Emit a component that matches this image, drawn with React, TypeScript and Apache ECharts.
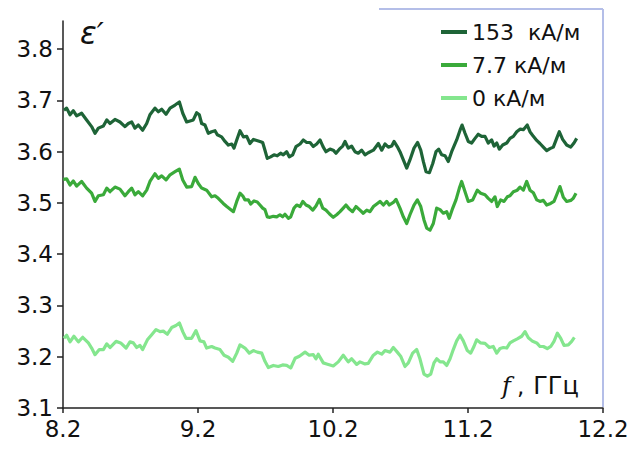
import { useEffect, useRef } from "react";
import * as echarts from "echarts";

// Frequency (GHz) and real permittivity ε′ for each bias field
const freq153 = [
  8.207, 8.227, 8.252, 8.276, 8.301, 8.338, 8.375, 8.412, 8.437, 8.462,
  8.499, 8.524, 8.548, 8.585, 8.622, 8.659, 8.684, 8.709, 8.733, 8.758,
  8.79, 8.82, 8.844, 8.881, 8.906, 8.931, 8.963, 8.993, 9.03, 9.062,
  9.087, 9.116, 9.141, 9.165, 9.19, 9.21, 9.227, 9.252, 9.276, 9.301,
  9.326, 9.343, 9.375, 9.4, 9.425, 9.45, 9.467, 9.487, 9.511, 9.536,
  9.561, 9.585, 9.61, 9.635, 9.659, 9.679, 9.696, 9.713, 9.738, 9.763,
  9.787, 9.812, 9.832, 9.857, 9.876, 9.901, 9.926, 9.956, 9.98, 10.005,
  10.03, 10.054, 10.079, 10.104, 10.126, 10.148, 10.178, 10.202, 10.222, 10.247,
  10.272, 10.289, 10.313, 10.338, 10.363, 10.387, 10.412, 10.437, 10.461, 10.499,
  10.536, 10.561, 10.585, 10.61, 10.635, 10.652, 10.676, 10.696, 10.721, 10.746,
  10.77, 10.8, 10.827, 10.85, 10.869, 10.889, 10.914, 10.939, 10.963, 10.983,
  11.005, 11.03, 11.054, 11.079, 11.116, 11.141, 11.156, 11.178, 11.202, 11.227,
  11.252, 11.276, 11.301, 11.326, 11.35, 11.375, 11.393, 11.413, 11.432, 11.457,
  11.487, 11.511, 11.536, 11.561, 11.585, 11.61, 11.639, 11.659, 11.684, 11.709,
  11.733, 11.758, 11.783, 11.807, 11.832, 11.857, 11.876, 11.901, 11.931, 11.961,
  11.985, 12.005,
];
const eps153 = [
  3.681, 3.685, 3.672, 3.68, 3.67, 3.675, 3.662, 3.649, 3.636, 3.646,
  3.65, 3.662, 3.655, 3.663, 3.658, 3.649, 3.655, 3.658, 3.646, 3.652,
  3.642, 3.655, 3.672, 3.685, 3.678, 3.683, 3.673, 3.685, 3.691, 3.697,
  3.675, 3.658, 3.66, 3.662, 3.676, 3.672, 3.655, 3.652, 3.636, 3.639,
  3.641, 3.633, 3.629, 3.62, 3.613, 3.615, 3.607, 3.623, 3.641, 3.629,
  3.63, 3.616, 3.624, 3.622, 3.62, 3.618, 3.603, 3.587, 3.59, 3.594,
  3.592, 3.597, 3.594, 3.6, 3.59, 3.594, 3.61, 3.615, 3.623, 3.618,
  3.618, 3.61, 3.615, 3.623, 3.61, 3.6, 3.605, 3.603, 3.597, 3.605,
  3.611, 3.62, 3.607, 3.611, 3.6, 3.597, 3.603, 3.594, 3.598, 3.603,
  3.616, 3.603, 3.615, 3.609, 3.611, 3.62, 3.61, 3.6, 3.584, 3.568,
  3.584, 3.607, 3.618, 3.603, 3.581, 3.561, 3.559, 3.577, 3.6, 3.605,
  3.594, 3.592, 3.581, 3.6, 3.623, 3.642, 3.652, 3.636, 3.62, 3.617,
  3.626, 3.634, 3.63, 3.63, 3.617, 3.623, 3.611, 3.617, 3.605, 3.613,
  3.617, 3.626, 3.63, 3.639, 3.644, 3.643, 3.652, 3.639, 3.63, 3.622,
  3.616, 3.609, 3.602, 3.606, 3.609, 3.626, 3.639, 3.624, 3.613, 3.609,
  3.617, 3.626,
];

const freq77 = [
  8.202, 8.227, 8.252, 8.276, 8.301, 8.338, 8.375, 8.412, 8.437, 8.462,
  8.499, 8.524, 8.548, 8.585, 8.622, 8.659, 8.684, 8.709, 8.733, 8.758,
  8.79, 8.82, 8.844, 8.881, 8.906, 8.931, 8.963, 8.993, 9.03, 9.062,
  9.087, 9.116, 9.153, 9.178, 9.202, 9.227, 9.264, 9.301, 9.326, 9.35,
  9.387, 9.413, 9.462, 9.487, 9.511, 9.531, 9.548, 9.573, 9.59, 9.615,
  9.639, 9.659, 9.679, 9.696, 9.713, 9.733, 9.758, 9.783, 9.807, 9.827,
  9.844, 9.869, 9.887, 9.911, 9.931, 9.956, 9.976, 10.0, 10.024, 10.05,
  10.074, 10.099, 10.124, 10.148, 10.173, 10.202, 10.227, 10.252, 10.276, 10.296,
  10.321, 10.345, 10.37, 10.4, 10.424, 10.45, 10.474, 10.499, 10.524, 10.548,
  10.573, 10.598, 10.617, 10.647, 10.667, 10.696, 10.721, 10.746, 10.77, 10.8,
  10.825, 10.85, 10.874, 10.894, 10.919, 10.943, 10.968, 10.993, 11.017, 11.042,
  11.061, 11.087, 11.111, 11.136, 11.153, 11.178, 11.202, 11.235, 11.269, 11.294,
  11.326, 11.35, 11.375, 11.4, 11.417, 11.442, 11.467, 11.491, 11.511, 11.536,
  11.565, 11.585, 11.61, 11.635, 11.659, 11.684, 11.709, 11.733, 11.758, 11.783,
  11.812, 11.837, 11.857, 11.881, 11.906, 11.931, 11.961, 11.98, 12.0,
];
const eps77 = [
  3.546, 3.547, 3.535, 3.543, 3.533, 3.542, 3.529, 3.519, 3.503, 3.514,
  3.516, 3.529, 3.522, 3.531, 3.527, 3.514, 3.522, 3.529, 3.516, 3.522,
  3.514, 3.525, 3.542, 3.557, 3.548, 3.553, 3.545, 3.555, 3.561, 3.566,
  3.545, 3.531, 3.532, 3.55, 3.538, 3.529, 3.525, 3.512, 3.514, 3.509,
  3.499, 3.493, 3.483, 3.503, 3.519, 3.514, 3.506, 3.506, 3.498, 3.504,
  3.502, 3.496, 3.49, 3.487, 3.473, 3.472, 3.474, 3.473, 3.477, 3.473,
  3.478, 3.47, 3.473, 3.49, 3.496, 3.493, 3.503, 3.496, 3.493, 3.486,
  3.494, 3.507, 3.49, 3.486, 3.479, 3.472, 3.477, 3.483, 3.49, 3.496,
  3.488, 3.483, 3.493, 3.486, 3.48, 3.486, 3.483, 3.493, 3.498, 3.503,
  3.496, 3.503, 3.496, 3.501, 3.507, 3.49, 3.473, 3.46, 3.477, 3.496,
  3.506, 3.493, 3.467, 3.451, 3.447, 3.46, 3.49, 3.487, 3.48, 3.483,
  3.47, 3.49, 3.506, 3.529, 3.542, 3.522, 3.503, 3.506, 3.525, 3.519,
  3.516, 3.509, 3.503, 3.512, 3.493, 3.506, 3.503, 3.512, 3.514, 3.522,
  3.525, 3.531, 3.525, 3.542, 3.525, 3.52, 3.506, 3.503, 3.505, 3.496,
  3.499, 3.503, 3.516, 3.532, 3.511, 3.503, 3.505, 3.509, 3.519,
];

const freq0 = [
  8.207, 8.227, 8.252, 8.281, 8.314, 8.346, 8.388, 8.412, 8.437, 8.469,
  8.499, 8.524, 8.548, 8.593, 8.627, 8.667, 8.696, 8.721, 8.746, 8.77,
  8.79, 8.825, 8.857, 8.889, 8.919, 8.943, 8.973, 9.005, 9.037, 9.062,
  9.087, 9.111, 9.153, 9.185, 9.215, 9.244, 9.264, 9.301, 9.326, 9.363,
  9.393, 9.425, 9.457, 9.487, 9.511, 9.548, 9.58, 9.61, 9.639, 9.672,
  9.696, 9.721, 9.758, 9.795, 9.827, 9.857, 9.887, 9.919, 9.951, 9.993,
  10.024, 10.054, 10.074, 10.091, 10.128, 10.153, 10.178, 10.202, 10.239, 10.276,
  10.313, 10.338, 10.375, 10.4, 10.437, 10.461, 10.499, 10.529, 10.561, 10.585,
  10.622, 10.647, 10.676, 10.701, 10.733, 10.758, 10.79, 10.82, 10.844, 10.874,
  10.899, 10.924, 10.948, 10.968, 10.993, 11.017, 11.042, 11.067, 11.091, 11.116,
  11.141, 11.165, 11.195, 11.22, 11.244, 11.264, 11.294, 11.326, 11.358, 11.387,
  11.413, 11.437, 11.462, 11.487, 11.511, 11.536, 11.565, 11.598, 11.622, 11.647,
  11.679, 11.709, 11.733, 11.758, 11.787, 11.813, 11.837, 11.862, 11.887, 11.911,
  11.943, 11.968, 11.988,
];
const eps0 = [
  3.236, 3.242, 3.229, 3.24, 3.229, 3.238, 3.227, 3.217, 3.204, 3.214,
  3.214, 3.225, 3.218, 3.23, 3.227, 3.217, 3.229, 3.227, 3.218, 3.222,
  3.214, 3.233, 3.243, 3.253, 3.249, 3.25, 3.244, 3.257, 3.261, 3.266,
  3.249, 3.236, 3.236, 3.251, 3.231, 3.229, 3.217, 3.22, 3.217, 3.214,
  3.203, 3.199, 3.191, 3.207, 3.223, 3.217, 3.207, 3.212, 3.209, 3.207,
  3.191, 3.179, 3.183, 3.181, 3.184, 3.183, 3.178, 3.197, 3.201, 3.209,
  3.203, 3.204, 3.196, 3.205, 3.188, 3.186, 3.184, 3.182, 3.19, 3.203,
  3.19, 3.196, 3.185, 3.19, 3.186, 3.187, 3.203, 3.209, 3.205, 3.212,
  3.209, 3.218, 3.209, 3.201, 3.181, 3.188, 3.207, 3.214, 3.196, 3.166,
  3.162, 3.166, 3.188, 3.196, 3.19, 3.19, 3.183, 3.196, 3.214, 3.231,
  3.242, 3.231, 3.212, 3.207, 3.22, 3.233, 3.227, 3.226, 3.218, 3.22,
  3.207, 3.216, 3.218, 3.217, 3.227, 3.231, 3.235, 3.24, 3.249, 3.237,
  3.23, 3.227, 3.22, 3.22, 3.216, 3.22, 3.23, 3.246, 3.236, 3.222,
  3.223, 3.23, 3.238,
];

const seriesNames = ["153  кА/м", "7.7 кА/м", "0 кА/м"];
const seriesColors = ["#1e6437", "#3aaa3a", "#84e68e"];
const xTicks = [8.2, 9.2, 10.2, 11.2, 12.2];
const yTicks = [3.1, 3.2, 3.3, 3.4, 3.5, 3.6, 3.7, 3.8];

const FONT = "DejaVu Sans";

function pairs(xs: number[], ys: number[]) {
  return xs.map((x, i) => [x, ys[i]]);
}

export default function App() {
  const ref = useRef<HTMLDivElement>(null);

  useEffect(() => {
    const chart = echarts.init(ref.current!, null, { renderer: "svg" });
    const data = [pairs(freq153, eps153), pairs(freq77, eps77), pairs(freq0, eps0)];

    chart.setOption({
      animation: false,
      backgroundColor: "#ffffff",
      grid: { left: 63, right: 36, top: 21, bottom: 42, containLabel: false },
      xAxis: {
        type: "value",
        min: 8.2,
        max: 12.2,
        axisLine: { onZero: false, lineStyle: { color: "#222", width: 1.5 } },
        axisTick: { show: true, length: 5, customValues: xTicks, lineStyle: { color: "#222", width: 1.5 } },
        axisLabel: {
          customValues: xTicks,
          fontFamily: FONT,
          fontSize: 23,
          color: "#111",
          margin: 9,
          formatter: (v: number) => v.toFixed(1),
        },
        splitLine: { show: false },
      },
      yAxis: {
        type: "value",
        min: 3.1,
        max: 3.855,
        axisLine: { show: true, onZero: false, lineStyle: { color: "#222", width: 1.5 } },
        axisTick: { show: true, length: 6, customValues: yTicks, lineStyle: { color: "#222", width: 1.5 } },
        axisLabel: {
          customValues: yTicks,
          fontFamily: FONT,
          fontSize: 23,
          color: "#111",
          margin: 10,
          formatter: (v: number) => v.toFixed(1),
        },
        splitLine: { show: false },
      },
      legend: {
        orient: "vertical",
        left: 436,
        top: 16,
        itemWidth: 26,
        itemHeight: 4,
        itemGap: 11,
        icon: "rect",
        data: seriesNames,
        textStyle: { fontFamily: FONT, fontSize: 22, color: "#111" },
      },
      series: seriesNames.map((name, i) => ({
        name,
        type: "line",
        data: data[i],
        showSymbol: false,
        symbol: "none",
        lineStyle: { color: seriesColors[i], width: 3.2, join: "round" },
        itemStyle: { color: seriesColors[i] },
        z: 3 - i,
      })),
      graphic: [
        {
          type: "line",
          shape: { x1: 379, y1: 9, x2: 603, y2: 9 },
          style: { stroke: "#b4bee8", lineWidth: 2 },
        },
        {
          type: "line",
          shape: { x1: 603, y1: 9, x2: 603, y2: 407 },
          style: { stroke: "#b4bee8", lineWidth: 2 },
        },
        {
          type: "text",
          left: 80,
          top: 17,
          style: {
            text: "ε′",
            fontFamily: FONT,
            fontStyle: "italic",
            fontSize: 31,
            fill: "#111",
          },
        },
        {
          type: "text",
          left: 502,
          top: 374,
          style: {
            text: "{f|f}{c|,}{t|ГГц}",
            rich: {
              f: { fontFamily: "DejaVu Serif", fontStyle: "italic", fontSize: 24, fill: "#111", padding: [0, 6, 0, 0] },
              c: { fontFamily: FONT, fontSize: 23, fill: "#111", padding: [0, 9, 0, 0] },
              t: { fontFamily: FONT, fontSize: 24, fill: "#111" },
            },
          },
        },
      ],
    });

    return () => chart.dispose();
  }, []);

  return (
    <div
      ref={ref}
      style={{ position: "fixed", left: 0, top: 0, width: 639, height: 450, background: "#fff" }}
    />
  );
}
